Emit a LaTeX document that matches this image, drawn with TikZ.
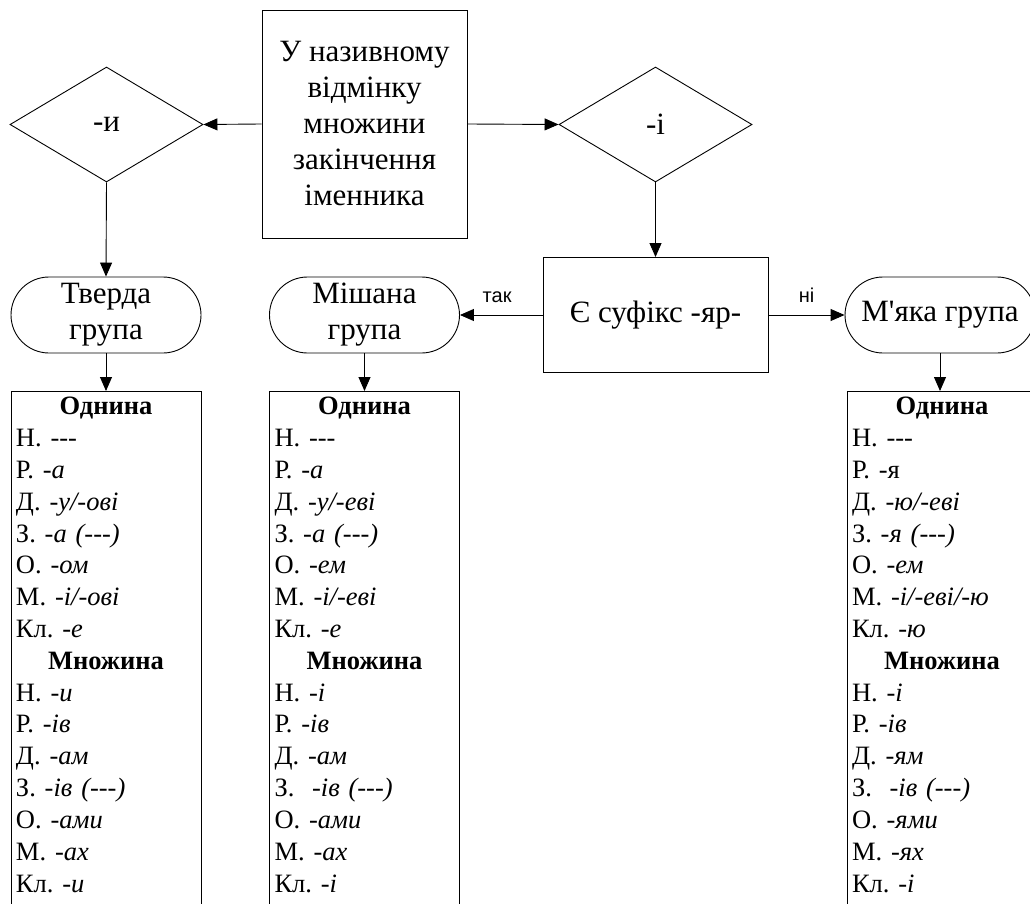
\documentclass[tikz,border=0pt]{standalone}
\usepackage{fontspec}
\setmainfont{Liberation Serif}
\newfontfamily\sansshrift{Liberation Sans}
\usetikzlibrary{shapes.geometric,arrows.meta}
\frenchspacing
\newcommand\velykyi{\fontsize{31pt}{36pt}\selectfont}
\newcommand\malyi{\fontsize{26.5pt}{31.8pt}\selectfont}
\newcommand\tryrysky{-{}-{}-}
\tikzset{% This is the style settings for nodes
    blok/.style={rectangle, draw=black, align=center, font=\velykyi},
    romb/.style={diamond, draw=black, minimum width=193pt, minimum height=115pt, inner sep=0pt, font=\velykyi},
    term/.style={rectangle, rounded corners=38pt, draw=black, minimum width=190pt, minimum height=76pt, align=center, font=\velykyi},
    tabl/.style={rectangle, draw=black, anchor=north, text width=180pt, inner xsep=5pt, inner ysep=6pt, align=left, text depth=520pt, font=\malyi},
    e/.style={-{Triangle[length=14pt,width=12pt]}},
    napys/.style={font=\sansshrift\fontsize{20pt}{24pt}\selectfont, above=8pt, inner sep=4pt}}

\begin{document}
\begin{tikzpicture}[x=1pt, y=-1pt, line width=0.9pt]
    \useasboundingbox (0,0) rectangle (1030,904);
    \clip (0,0) rectangle (1030,904);

    \node[blok, minimum width=205pt, minimum height=228pt] (pytannia) at (364.5,124) {У називному\\відмінку\\множини\\закінчення\\іменника};
    \node[romb] (ry) at (106.5,124.5) {-и};
    \node[romb] (ri) at (655.5,124.5) {-і};
    \node[term] (tverda) at (106,315) {Тверда\\група};
    \node[term] (mishana) at (364.5,315) {Мішана\\група};
    \node[blok, minimum width=225pt, minimum height=115pt] (sufiks) at (655.5,315) {Є суфікс -яр-};
    \node[term] (miaka) at (940,315) {М\textquotesingle яка група};

    \node[tabl] (ttab) at (106,391) {\makebox[\hsize]{\textbf{Однина}}\\
        Н. \tryrysky\\
        Р. \textit{-а}\\
        Д. \textit{-у/-ові}\\
        З. \textit{-а (\tryrysky)}\\
        О. \textit{-ом}\\
        М. \textit{-і/-ові}\\
        Кл. \textit{-е}\\
        \makebox[\hsize]{\textbf{Множина}}\\
        Н. \textit{-и}\\
        Р. \textit{-ів}\\
        Д. \textit{-ам}\\
        З. \textit{-ів (\tryrysky)}\\
        О. \textit{-ами}\\
        М. \textit{-ах}\\
        Кл. \textit{-и}};
    \node[tabl] (mtab) at (364.5,391) {\makebox[\hsize]{\textbf{Однина}}\\
        Н. \tryrysky\\
        Р. \textit{-а}\\
        Д. \textit{-у/-еві}\\
        З. \textit{-а (\tryrysky)}\\
        О. \textit{-ем}\\
        М. \textit{-і/-еві}\\
        Кл. \textit{-е}\\
        \makebox[\hsize]{\textbf{Множина}}\\
        Н. \textit{-і}\\
        Р. \textit{-ів}\\
        Д. \textit{-ам}\\
        З.~ \textit{-ів (\tryrysky)}\\
        О. \textit{-ами}\\
        М. \textit{-ах}\\
        Кл. \textit{-і}};
    \node[tabl] (ytab) at (942,391) {\makebox[\hsize]{\textbf{Однина}}\\
        Н. \tryrysky\\
        Р. -я\\
        Д. \textit{-ю/-еві}\\
        З. \textit{-я (\tryrysky)}\\
        О. \textit{-ем}\\
        М. \textit{-і/-еві/-ю}\\
        Кл. \textit{-ю}\\
        \makebox[\hsize]{\textbf{Множина}}\\
        Н. \textit{-і}\\
        Р. \textit{-ів}\\
        Д. \textit{-ям}\\
        З.~ \textit{-ів (\tryrysky)}\\
        О. \textit{-ями}\\
        М. \textit{-ях}\\
        Кл. \textit{-і}};

    \draw[e] (pytannia.west) -- (ry.east);
    \draw[e] (pytannia.east) -- (ri.west);
    \draw[e] (ry.south) -- (tverda.north);
    \draw[e] (ri.south) -- (sufiks.north);
    \draw[e] (sufiks.west) -- node[napys, pos=0.55] {так} (mishana.east);
    \draw[e] (sufiks.east) -- node[napys] {ні} (miaka.west);
    \draw[e] (tverda.south) -- (ttab.north);
    \draw[e] (mishana.south) -- (mtab.north);
    \draw[e] (miaka.south) -- (ytab.north -| miaka.south);
\end{tikzpicture}
\end{document}
